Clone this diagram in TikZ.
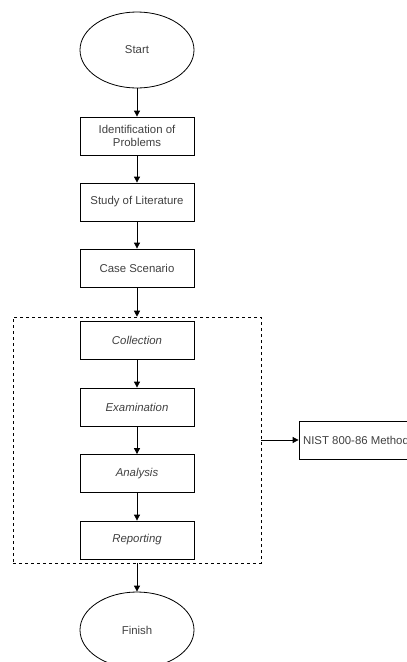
\documentclass[tikz,border=0pt]{standalone}
\usepackage{fontspec}
\setmainfont{Liberation Sans}
\usetikzlibrary{arrows.meta,shapes.geometric}
\begin{document}
\begin{tikzpicture}[x=1pt,y=-1pt,line width=0.8pt,
    every node/.style={font=\fontsize{11.4}{13.5}\selectfont,text=black!75},
    procbox/.style={draw,rectangle,minimum width=114pt,minimum height=38pt,
      inner sep=2pt,align=center},
    terminal/.style={draw,ellipse,minimum width=114pt,minimum height=76pt,inner sep=0pt},
    phasebox/.style={draw,dashed,line width=0.6pt,rectangle,minimum width=248pt,
      minimum height=246pt},
    flow/.style={-{Triangle[length=6pt,width=6pt]}}]
      \useasboundingbox (0,0) rectangle (407,662);
      \clip (0,0) rectangle (407,662);

      \node [terminal] (start) at (137,50) {Start};

      \node [procbox] (ident) at (137,136) {Identification of\\Problems};

      \node [procbox] (study) at (137,202) {Study of Literature};

      \node [procbox] (case) at (137,268) {Case Scenario};

      % NIST phases
      \node [phasebox] (phase) at (137,440) {};

      \node [procbox,font=\fontsize{11.4}{13.5}\selectfont\itshape] (collect) at (137,340) {Collection};

      \node [procbox,font=\fontsize{11.4}{13.5}\selectfont\itshape] (exam) at (137,407) {Examination};

      \node [procbox,font=\fontsize{11.4}{13.5}\selectfont\itshape] (analysis) at (137,473.5) {Analysis};

      \node [procbox,font=\fontsize{11.4}{13.5}\selectfont\itshape] (report) at (137,540) {Reporting};

      \node [procbox] (nist) at (356,440) {NIST 800-86 Method};

      \node [terminal] (finish) at (137,630) {Finish};

      \draw [flow] (start) -- (ident);
      \draw [flow] (ident) -- (study);
      \draw [flow] (study) -- (case);
      \draw [flow] (case) -- (phase.north);

      \draw [flow] (collect) -- (exam);
      \draw [flow] (exam) -- (analysis);
      \draw [flow] (analysis) -- (report);

      \draw [flow] (phase.south) -- (finish);
      \draw [flow] (phase.east) -- (nist);
  \end{tikzpicture}
\end{document}
